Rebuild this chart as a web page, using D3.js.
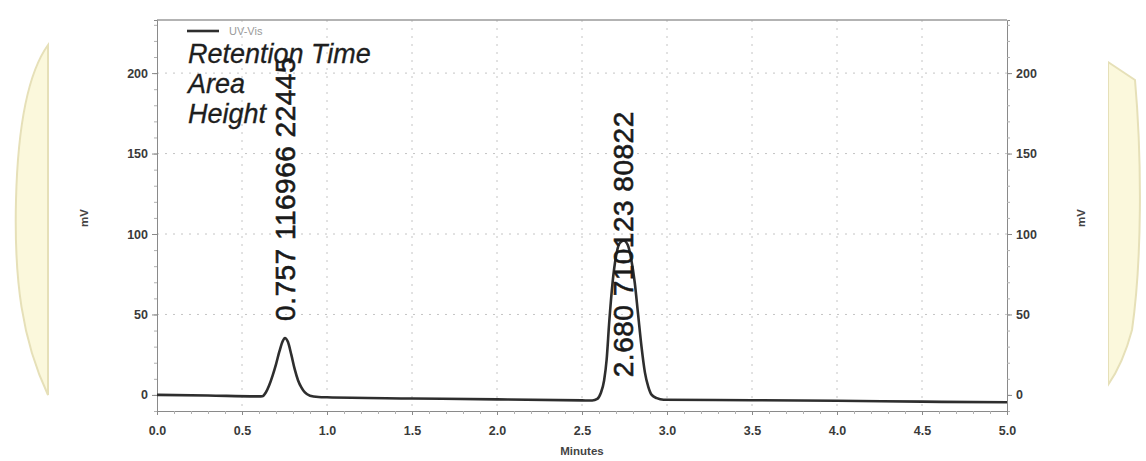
<!DOCTYPE html>
<html>
<head>
<meta charset="utf-8">
<script src="https://cdn.jsdelivr.net/npm/d3@7"></script>
<style>
  body { margin: 0; background: #fff; }
  svg { display: block; font-family: "Liberation Sans", Arial, sans-serif; }
</style>
</head>
<body>
<div id="chart"></div>
<script>
// chromatogram trace (minutes, mV)
const timeMin = [0.0, 0.3, 0.6, 0.62, 0.64, 0.66, 0.68, 0.70, 0.72, 0.74, 0.752, 0.77, 0.79, 0.81, 0.83, 0.85, 0.87, 0.90, 0.95, 1.0, 1.5, 2.0, 2.5, 2.56, 2.59, 2.61, 2.63, 2.645, 2.66, 2.68, 2.70, 2.72, 2.745, 2.77, 2.79, 2.81, 2.83, 2.85, 2.87, 2.89, 2.91, 2.94, 2.98, 3.5, 4.0, 4.5, 5.0];
const signalMv = [0.0, -0.4, -0.9, -0.8, 1.5, 6, 12, 19, 27, 33.5, 35.4, 33, 25, 16, 9, 4.5, 1.5, -0.5, -1.3, -1.5, -2.2, -2.8, -3.4, -3.5, -2.5, 1, 9, 22, 45, 70, 86, 94, 96, 93, 84, 70, 50, 30, 14, 5, 0, -2, -3, -3.3, -3.6, -4.2, -4.6];

const xTicks = [0.0, 0.5, 1.0, 1.5, 2.0, 2.5, 3.0, 3.5, 4.0, 4.5, 5.0];
const yTicks = [0, 50, 100, 150, 200];

// peak annotations: retention time, area, height
const peakTime = ["0.757", "2.680"];
const peakArea = ["116966", "710123"];
const peakHeight = ["22445", "80822"];
const peakLabelX = [0.752, 2.74];
const peakLabelY = [46, 11];

const headerLines = ["Retention Time", "Area", "Height"];
const seriesName = "UV-Vis";

const W = 1146, H = 461;
const margin = { top: 20, right: 139, bottom: 50, left: 157 };

const svg = d3.select("#chart").append("svg")
  .attr("width", W).attr("height", H);

// faint page watermark at the edges
svg.append("path")
  .attr("d", "M48,45 C30,70 18,120 16,200 C14,280 22,340 48,395 L48,45 Z")
  .attr("fill", "#fbf8dc").attr("stroke", "#e6e0b8").attr("stroke-width", 2);
svg.append("path")
  .attr("d", "M1108,62 L1135,80 C1142,160 1142,260 1132,330 C1124,360 1115,375 1108,385 Z")
  .attr("fill", "#fbf8dc").attr("stroke", "#e6e0b8").attr("stroke-width", 2);
svg.append("rect").attr("x", 49).attr("y", 0).attr("width", 1059).attr("height", H).attr("fill", "#fff");

const x = d3.scaleLinear().domain([0, 5]).range([margin.left, W - margin.right]);
const y = d3.scaleLinear().domain([-10, 233]).range([H - margin.bottom, margin.top]);

const gridColor = "#c4c4c4";

// grid
svg.append("g").selectAll("line").data(yTicks.filter(d => d > 0)).join("line")
  .attr("x1", x(0)).attr("x2", x(5))
  .attr("y1", d => y(d)).attr("y2", d => y(d))
  .attr("stroke", gridColor).attr("stroke-dasharray", "2,6");
svg.append("g").selectAll("line").data(xTicks.filter(d => d > 0 && d < 5)).join("line")
  .attr("x1", d => x(d)).attr("x2", d => x(d))
  .attr("y1", y(233)).attr("y2", y(-10))
  .attr("stroke", gridColor).attr("stroke-dasharray", "2,6");

// frame
svg.append("line").attr("x1", x(0)).attr("x2", x(5)).attr("y1", y(233)).attr("y2", y(233))
  .attr("stroke", "#9a9a9a").attr("stroke-width", 1.5);

// axes
const axisColor = "#8a8a8a";
function styleAxis(g) {
  g.selectAll(".domain").attr("stroke", axisColor);
  g.selectAll(".tick line").attr("stroke", axisColor);
  g.selectAll(".tick text").attr("fill", "#3a3a3a").attr("font-size", 12.5).attr("font-weight", "bold");
}

const minorY = d3.range(-10, 231, 10);
svg.append("g").attr("transform", `translate(${x(0)},0)`)
  .call(d3.axisLeft(y).tickValues(minorY).tickSize(3).tickFormat(""))
  .call(g => g.selectAll(".tick line").attr("stroke", "#b0b0b0"))
  .call(g => g.select(".domain").attr("stroke", axisColor));
svg.append("g").attr("transform", `translate(${x(0)},0)`)
  .call(d3.axisLeft(y).tickValues(yTicks).tickSize(5).tickPadding(4))
  .call(styleAxis)
  .call(g => g.select(".domain").remove());

svg.append("g").attr("transform", `translate(${x(5)},0)`)
  .call(d3.axisRight(y).tickValues(minorY).tickSize(3).tickFormat(""))
  .call(g => g.selectAll(".tick line").attr("stroke", "#b0b0b0"))
  .call(g => g.select(".domain").attr("stroke", axisColor));
svg.append("g").attr("transform", `translate(${x(5)},0)`)
  .call(d3.axisRight(y).tickValues(yTicks).tickSize(5).tickPadding(4))
  .call(styleAxis)
  .call(g => g.select(".domain").remove());

const minorX = d3.range(0, 51).map(d => d / 10);
svg.append("g").attr("transform", `translate(0,${y(-10)})`)
  .call(d3.axisBottom(x).tickValues(minorX).tickSize(3).tickFormat(""))
  .call(g => g.selectAll(".tick line").attr("stroke", "#b0b0b0"))
  .call(g => g.select(".domain").attr("stroke", axisColor));
svg.append("g").attr("transform", `translate(0,${y(-10)})`)
  .call(d3.axisBottom(x).tickValues(xTicks).tickSize(4).tickPadding(11).tickFormat(d3.format(".1f")))
  .call(styleAxis)
  .call(g => g.select(".domain").remove());

// axis titles
svg.append("text").attr("x", (x(0) + x(5)) / 2).attr("y", 455)
  .attr("text-anchor", "middle").attr("font-size", 11.5).attr("font-weight", "bold")
  .attr("fill", "#444").text("Minutes");
svg.append("text").attr("transform", "translate(88,218) rotate(-90)")
  .attr("text-anchor", "middle").attr("font-size", 11.5).attr("font-weight", "bold")
  .attr("fill", "#444").text("mV");
svg.append("text").attr("transform", "translate(1085,218) rotate(-90)")
  .attr("text-anchor", "middle").attr("font-size", 11.5).attr("font-weight", "bold")
  .attr("fill", "#444").text("mV");

// trace
const data = timeMin.map((t, i) => ({ t, v: signalMv[i] }));
const line = d3.line().x(d => x(d.t)).y(d => y(d.v)).curve(d3.curveMonotoneX);
svg.append("path").datum(data)
  .attr("d", line).attr("fill", "none")
  .attr("stroke", "#2e2e2e").attr("stroke-width", 2.6).attr("stroke-linejoin", "round");

// legend
svg.append("line").attr("x1", 187).attr("x2", 219).attr("y1", 31).attr("y2", 31)
  .attr("stroke", "#2e2e2e").attr("stroke-width", 2.6);
svg.append("text").attr("x", 229).attr("y", 35).attr("font-size", 11)
  .attr("fill", "#9a9a9a").text(seriesName);

// header text
svg.append("g").selectAll("text").data(headerLines).join("text")
  .attr("x", 188).attr("y", (d, i) => 63 + i * 30)
  .attr("font-size", 27).attr("font-style", "italic").attr("fill", "#1e1e1e")
  .attr("stroke", "#1e1e1e").attr("stroke-width", 0.3)
  .text(d => d);

// peak labels (rotated)
svg.append("g").selectAll("text").data(peakTime).join("text")
  .attr("transform", (d, i) => `translate(${x(peakLabelX[i]) + 10},${y(peakLabelY[i])}) rotate(-90)`)
  .attr("font-size", 28).attr("fill", "#1a1a1a")
  .attr("stroke", "#1a1a1a").attr("stroke-width", 0.6)
  .attr("letter-spacing", 0.5)
  .attr("xml:space", "preserve")
  .text((d, i) => `${d} ${peakArea[i]} ${peakHeight[i]}`);
</script>
</body>
</html>
